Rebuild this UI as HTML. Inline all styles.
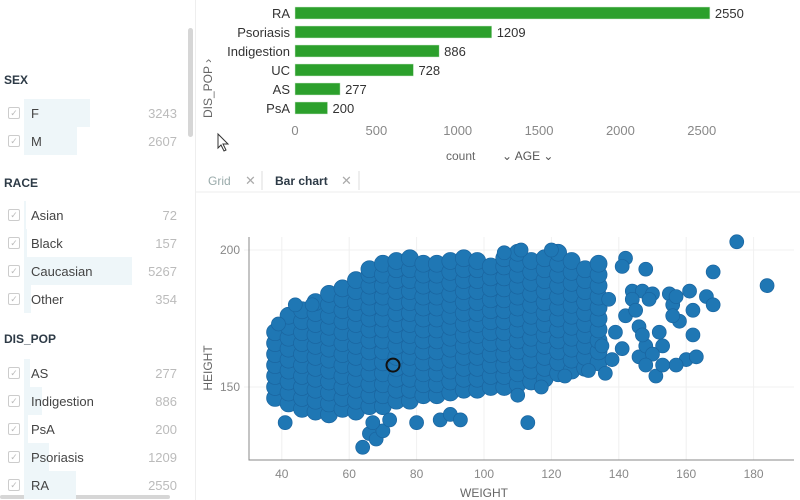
<!DOCTYPE html>
<html><head><meta charset="utf-8"><style>
body{margin:0;width:800px;height:500px;overflow:hidden;background:#fff;font-family:"Liberation Sans",sans-serif;position:relative}
.a{position:absolute}
.hdr{position:absolute;left:4px;font-size:12px;font-weight:bold;color:#2d3a46}
.row{position:absolute;left:0;width:185px;height:28px}
.row .bg{position:absolute;left:24px;top:0;height:28px;background:#eef6f9}
.row .cb{position:absolute;left:8px;top:8px;width:10px;height:10px;border:1px solid #ccc;border-radius:2px;color:#bbb;font-size:9px;line-height:10px;text-align:center}
.row .lb{position:absolute;left:31px;top:7px;font-size:13px;color:#444}
.row .ct{position:absolute;right:8px;top:7px;font-size:13px;color:#bbb}
</style></head><body>
<div class="a" style="left:0;top:0;width:195px;height:500px;border-right:1px solid #eee">
<div class="a" style="left:188px;top:28px;width:5px;height:109px;background:#d6d6d6;border-radius:3px"></div>
<div class="a" style="left:0;top:495px;width:170px;height:4px;background:#d6d6d6;border-radius:2px"></div>
<div class="hdr" style="top:73px">SEX</div>
<div class="hdr" style="top:176px">RACE</div>
<div class="hdr" style="top:332px">DIS_POP</div>
<div id="rows"></div>
</div>
<svg class="a" style="left:0;top:0" width="800" height="500" id="svg">
<line x1="196" y1="192" x2="800" y2="192" stroke="#eee"/>
<text x="208" y="185" font-size="12" fill="#9aa">Grid</text>
<text x="245" y="185" font-size="13" fill="#aaa">✕</text>
<line x1="262" y1="171" x2="262" y2="190" stroke="#ddd"/>
<text x="275" y="185" font-size="12" font-weight="bold" fill="#2d3a46">Bar chart</text>
<text x="341" y="185" font-size="13" fill="#aaa">✕</text>
<line x1="359" y1="171" x2="359" y2="190" stroke="#ddd"/>
<text transform="translate(212,118) rotate(-90)" font-size="12" fill="#666">DIS_POP ›</text>
<text x="446" y="160" font-size="12" fill="#666">count</text>
<text x="502" y="160" font-size="12" fill="#555">⌄ AGE ⌄</text>
<path d="M218,134 L218,148 L221,145 L224,151 L226,150 L223,144 L228,144 Z" fill="#fff" stroke="#333"/>
<g id="bars"></g>
<g id="scatter"></g>
</svg>
<script>
var ns="http://www.w3.org/2000/svg";
function mk(t,a,p){var e=document.createElementNS(ns,t);for(var k in a)e.setAttribute(k,a[k]);p.appendChild(e);return e;}
var sexCats=["F","M"],sexVals=[3243,2607],sexW=[66,53];
var raceCats=["Asian","Black","Caucasian","Other"],raceVals=[72,157,5267,354],raceW=[2,3,108,7];
var disCats=["AS","Indigestion","PsA","Psoriasis","RA"],disVals=[277,886,200,1209,2550],disW=[6,18,4,25,52];
var rows=document.getElementById('rows');
function addRows(cats,vals,ws,top){cats.forEach(function(c,i){
var r=document.createElement('div');r.className='row';r.style.top=(top+i*28)+'px';


r.innerHTML='<div class="bg" style="width:'+ws[i]+'px"></div><div class="cb">✓</div><div class="lb">'+c+'</div><div class="ct">'+vals[i]+'</div>';
rows.appendChild(r);});}
addRows(sexCats,sexVals,sexW,99);
addRows(raceCats,raceVals,raceW,201);
addRows(disCats,disVals,disW,359);
var barCats=["RA","Psoriasis","Indigestion","UC","AS","PsA"];
var barVals=[2550,1209,886,728,277,200];
var barTicks=[0,500,1000,1500,2000,2500];
var bg=document.getElementById('bars');
function bx(v){return 295+v*0.1627;}
function by(i){return 13+i*19;}
barCats.forEach(function(c,i){
var r=mk('rect',{x:bx(0),y:by(i)-6,width:bx(barVals[i])-bx(0),height:12,fill:'#2ca02c',stroke:'#cfe9cf','stroke-width':0.5},bg);


var t=mk('text',{x:290,y:by(i)+5,'font-size':13,fill:'#333','text-anchor':'end'},bg);t.textContent=c;


var v=mk('text',{x:bx(barVals[i])+5,y:by(i)+5,'font-size':13,fill:'#333'},bg);v.textContent=barVals[i];


});
barTicks.forEach(function(t){var e=mk('text',{x:bx(t),y:135,'font-size':13,fill:'#888','text-anchor':'middle'},bg);e.textContent=t;

});
var colW=[38,42,46,50,54,58,62,66,70,74,78,82,86,90,94,98,102,106,110,114,118,122,126,130,134];
var colH=[
[146,150,154,158,162,166,170],
[144,148,152,156,160,164,168,172,176],
[142,146,150,154,158,162,166,170,174,178],
[141,145,149,153,157,161,165,169,173,177,181],
[140,144,148,152,156,160,164,168,172,176,180,184],
[142,146,150,154,158,162,166,170,174,178,182,186],
[141,145,149,153,157,161,165,169,173,177,181,185,189],
[143,147,151,155,159,163,167,171,175,179,183,187,191,193],
[143,147,151,155,159,163,167,171,175,179,183,187,191,195],
[145,149,153,157,161,165,169,173,177,181,185,189,193,196],
[145,149,153,157,161,165,169,173,177,181,185,189,193,197],
[147,151,155,159,163,167,171,175,179,183,187,191,195],
[147,151,155,159,163,167,171,175,179,183,187,191,195],
[148,152,156,160,164,168,172,176,180,184,188,192,196],
[149,153,157,161,165,169,173,177,181,185,189,193,197],
[149,153,157,161,165,169,173,177,181,185,189,193,196],
[150,154,158,162,166,170,174,178,182,186,190,194],
[150,154,158,162,166,170,174,178,182,186,190,194,197],
[151,155,159,163,167,171,175,179,183,187,191,195,199],
[152,156,160,164,168,172,176,180,184,188,192,196],
[153,157,161,165,169,173,177,181,185,189,193,197],
[155,159,163,167,171,175,179,183,187,191,195,199],
[156,160,164,168,172,176,180,184,188,192,196],
[157,161,165,169,173,177,181,185,189,193],
[159,163,167,171,175,179,183,187,191,195]];
var extraPts=[[39,173],[44,180],[49,180],[41,137],[64,128],[66,133],[68,131],[70,134],[72,138],[67,137],[80,137],[87,138],[90,140],[93,138],[110,147],[113,137],[117,150],[124,154],[106,199],[111,200],[120,200],[142,197],[141,194],[148,193],[137,182],[144,185],[147,185],[150,184],[149,182],[155,184],[156,180],[157,183],[161,185],[166,183],[168,180],[162,178],[158,174],[156,176],[153,165],[160,160],[157,158],[163,161],[162,169],[151,154],[146,161],[148,165],[150,162],[146,172],[147,169],[142,176],[141,164],[138,160],[136,155],[131,156],[135,165],[175,203],[184,187],[168,192],[144,182],[145,178],[152,170],[139,170],[153,158],[148,158]];
var xTicks=[40,60,80,100,120,140,160,180];
var yTicks=[150,200];
var selPt=[73,158];
function sx(v){return 147+v*3.37;}
function sy(v){return 250+(200-v)*2.74;}
var sg=document.getElementById('scatter');
xTicks.forEach(function(t){mk('line',{x1:sx(t),y1:237,x2:sx(t),y2:460,stroke:'#f0f0f0'},sg);
var e=mk('text',{x:sx(t),y:478,'font-size':12,fill:'#888','text-anchor':'middle'},sg);e.textContent=t;

});
yTicks.forEach(function(t){mk('line',{x1:244,y1:sy(t),x2:794,y2:sy(t),stroke:'#f0f0f0'},sg);
var e=mk('text',{x:240,y:sy(t)+4,'font-size':12,fill:'#888','text-anchor':'end'},sg);e.textContent=t;

});
mk('path',{d:'M249,237 L249,460 L794,460',fill:'none',stroke:'#888'},sg);
var pts=[];colW.forEach(function(w,i){colH[i].forEach(function(h){pts.push([w,h]);});});
pts.forEach(function(p){var c=mk('circle',{cx:sx(p[0]),cy:sy(p[1]),r:8.5,fill:'#1f77b4',stroke:'#1a65a0','stroke-width':0.7},sg);

});
extraPts.forEach(function(p){var c=mk('circle',{cx:sx(p[0]),cy:sy(p[1]),r:7,fill:'#1f77b4',stroke:'#1a65a0','stroke-width':0.7},sg);

});
var s=mk('circle',{cx:sx(selPt[0]),cy:sy(selPt[1]),r:6.5,fill:'none',stroke:'#111','stroke-width':2},sg);


var xl=mk('text',{x:484,y:497,'font-size':12,fill:'#666','text-anchor':'middle'},sg);xl.textContent='WEIGHT';


var yl=mk('text',{transform:'translate(212,368) rotate(-90)','font-size':12,fill:'#666','text-anchor':'middle'},sg);yl.textContent='HEIGHT';


</script>
</body></html>
